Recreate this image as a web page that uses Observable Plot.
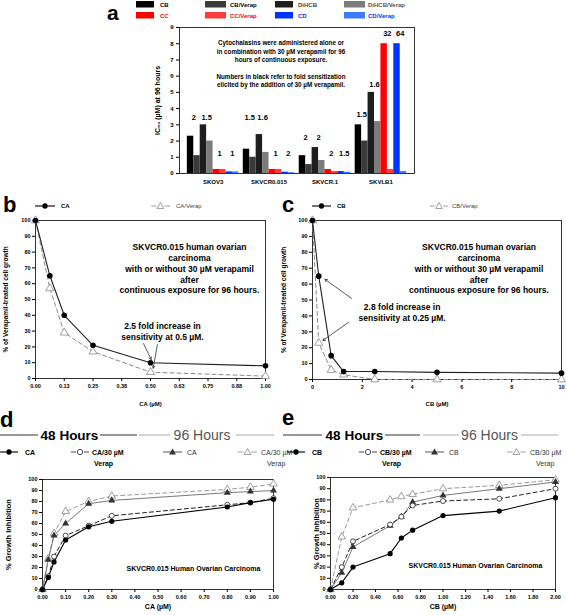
<!DOCTYPE html>
<html><head><meta charset="utf-8">
<script src="https://cdn.jsdelivr.net/npm/d3@7"></script>
<script src="https://cdn.jsdelivr.net/npm/@observablehq/plot@0.6"></script>
<style>
body{margin:0;background:#fff;}
#root{position:relative;width:566px;height:615px;overflow:hidden;font-family:"Liberation Sans",Arial,sans-serif;}
.panel{position:absolute;}
#overlay{position:absolute;left:0;top:0;pointer-events:none;}
</style></head><body><div id="root"></div>
<script>
// ---------- Panel a data ----------
const cellLines = ["SKOV3", "SKVCR0.015", "SKVCR.1", "SKVLB1"];
const agents = ["CB", "CB/Verap", "DiHCB", "DiHCB/Verap", "CC", "CC/Verap", "CD", "CD/Verap"];
const agentColors = ["#000000", "#3a3a3a", "#1e1e1e", "#7c7c7c", "#ff0000", "#ff3c3c", "#0033ff", "#3d7cff"];
const agentTextColors = ["#000", "#000", "#444", "#555", "#ff0000", "#ff0000", "#0033ff", "#0033ff"];
const ic50SKOV3 = [2.3, 1.1, 3.0, 2.0, 0.25, 0.25, 0.1, 0.1];
const ic50SKVCR015 = [1.5, 1.0, 2.4, 1.3, 0.25, 0.25, 0.08, 0.05];
const ic50SKVCR1 = [1.1, 0.55, 1.6, 0.8, 0.25, 0.12, 0.12, 0.08];
const ic50SKVLB1 = [3.0, 2.0, 5.0, 3.2, 8.0, 0.25, 8.0, 0.12];
const foldSKOV3 = ["2", "1.5", "1", "1"];
const foldSKVCR015 = ["1.5", "1.6", "1", "2"];
const foldSKVCR1 = ["2", "2", "2", "1.5"];
const foldSKVLB1 = ["1.5", "1.6", "32", "64"];
const foldLevelSKOV3 = [3.45, 3.45, 1.2, 1.2];
const foldLevelSKVCR015 = [3.45, 3.45, 1.2, 1.2];
const foldLevelSKVCR1 = [2.2, 2.2, 1.2, 1.2];
const foldLevelSKVLB1 = [3.65, 5.5, 8.6, 8.6];
const aYTicks = [0, 1, 2, 3, 4, 5, 6, 7, 8, 9];

// ---------- Panel b data (CA, 96 h) ----------
const caDose = [0, 0.0625, 0.125, 0.25, 0.5, 1.0];
const caGrowth = [100, 65, 40, 21, 10, 8];
const caVerapGrowth = [100, 57, 29, 17, 4, 1.5];
const bXTicks = [0, 0.125, 0.25, 0.375, 0.5, 0.625, 0.75, 0.875, 1.0];

// ---------- Panel c data (CB, 96 h) ----------
const cbDose = [0, 0.25, 0.75, 1.25, 2.5, 5, 10];
const cbGrowth = [100, 65, 15, 5, 5, 4.5, 4];
const cbVerapGrowth = [100, 23, 6, 3, 0, 0, 0];
const cXTicks = [0, 2, 4, 6, 8, 10];
const growthTicks = [0, 10, 20, 30, 40, 50, 60, 70, 80, 90, 100];

// ---------- Panel d data (CA growth inhibition) ----------
const dDose = [0, 0.025, 0.05, 0.1, 0.2, 0.3, 0.8, 0.9, 1.0];
const dCA48 = [0, 11, 25, 45, 57, 62, 75, 79, 82];
const dCAVerap48 = [0, 12, 30, 49, 58, 67, 77, 79, 83];
const dCA96 = [0, 27, 49, 60, 78, 81, 88, 89, 90];
const dCAVerap96 = [0, 28, 51, 71, 80, 85, 91, 93, 96];
const dXTicks = [0, 0.1, 0.2, 0.3, 0.4, 0.5, 0.6, 0.7, 0.8, 0.9, 1.0];

// ---------- Panel e data (CB growth inhibition) ----------
const eDose = [0, 0.1, 0.2, 0.53, 0.63, 0.73, 1.0, 1.5, 2.0];
const eCB48 = [0, 6, 20, 32, 46, 53, 66, 70, 82];
const eCBVerap48 = [0, 20, 43, 58, 65, 75, 79, 81, 90];
const eCB96 = [0, 15, 38, 57, 65, 78, 84, 90, 96];
const eCBVerap96 = [0, 47, 73, 80, 83, 85, 90, 93, 98];
const eXTicks = [0, 0.2, 0.4, 0.6, 0.8, 1.0, 1.2, 1.4, 1.6, 1.8, 2.0];

// ---------- helpers ----------
const FONT = "Liberation Sans, Arial, sans-serif";
const root = document.getElementById("root");
function mount(node, left, top) {
  const div = document.createElement("div");
  div.className = "panel";
  div.style.left = left + "px";
  div.style.top = top + "px";
  div.appendChild(node);
  root.appendChild(div);
}
const baseStyle = {fontFamily: FONT, fontWeight: "bold", fontSize: "6px", background: "transparent", overflow: "visible", color: "#000"};
const rows = (xs, ys) => xs.map((x, i) => ({x, y: ys[i]}));
const yTitle = (t, dx, size) => Plot.text([t], {frameAnchor: "left", textAnchor: "middle", rotate: -90, dx, fontSize: size, fontWeight: "bold"});

// ---------- Panel a ----------
const ic50ByLine = [ic50SKOV3, ic50SKVCR015, ic50SKVCR1, ic50SKVLB1];
const foldByLine = [foldSKOV3, foldSKVCR015, foldSKVCR1, foldSKVLB1];
const foldLevelByLine = [foldLevelSKOV3, foldLevelSKVCR015, foldLevelSKVCR1, foldLevelSKVLB1];
const BW = 0.115;
const barRows = cellLines.flatMap((line, gi) => agents.map((agent, si) => ({gi, si, agent, value: ic50ByLine[gi][si]})));
const foldRows = cellLines.flatMap((line, gi) => [0, 1, 2, 3].map(p => ({gi, p, label: foldByLine[gi][p], level: foldLevelByLine[gi][p]})));
const aNote = "Cytochalasins were administered alone or\nin combination with 30 µM verapamil for 96\nhours of continuous exposure.\n\nNumbers in black refer to fold sensitization\nelicited by the addition of 30 µM verapamil.";

mount(Plot.plot({
  width: 290, height: 172, marginLeft: 49, marginTop: 7, marginRight: 6, marginBottom: 19,
  style: baseStyle,
  x: {domain: [-0.6, 3.6]},
  y: {domain: [0, 9]},
  color: {domain: agents, range: agentColors},
  marks: [
    Plot.rect(barRows, {x1: d => d.gi + (d.si - 4) * BW, x2: d => d.gi + (d.si - 3) * BW, y1: 0, y2: "value", fill: "agent"}),
    Plot.frame({stroke: "#000", strokeWidth: 0.8}),
    Plot.axisY({ticks: aYTicks, tickSize: 3, tickPadding: 3, fontSize: 6, label: null}),
    Plot.axisX({ticks: [0, 1, 2, 3], tickFormat: i => cellLines[i], tickSize: 0, tickPadding: 6, fontSize: 6, label: null}),
    Plot.text(foldRows, {x: d => d.gi + (2 * d.p - 3) * BW, y: "level", text: "label", fontSize: 7.5, fontWeight: "bold", fill: "#000"}),
    Plot.text([aNote], {frameAnchor: "top", dx: -16, dy: 12, lineAnchor: "top", fontSize: 6.3, lineHeight: 1.33, fontWeight: "bold", fill: "#000"}),
    yTitle("IC₅₀ (µM) at 96 hours", -22, 7)
  ]
}), 130, 20);

// ---------- Panel b ----------
const bMainNote = "SKVCR0.015 human ovarian\ncarcinoma\nwith or without 30 µM verapamil\nafter\ncontinuous exposure for 96 hours.";
mount(Plot.plot({
  width: 270, height: 195, marginLeft: 35, marginTop: 5, marginRight: 5, marginBottom: 32,
  style: baseStyle,
  x: {domain: [0, 1]},
  y: {domain: [0, 100]},
  marks: [
    Plot.frame({stroke: "#000", strokeWidth: 0.8}),
    Plot.axisX({ticks: bXTicks, tickFormat: d => d.toFixed(2), tickSize: 3, tickPadding: 3, fontSize: 5.5, label: null}),
    Plot.axisY({ticks: growthTicks, tickSize: 3, tickPadding: 2, fontSize: 5.5, label: null}),
    Plot.line(rows(caDose, caVerapGrowth), {x: "x", y: "y", stroke: "#8a8a8a", strokeWidth: 1, strokeDasharray: "4,3"}),
    Plot.dot(rows(caDose, caVerapGrowth), {x: "x", y: "y", symbol: "triangle", r: 3, stroke: "#888", fill: "#fff", strokeWidth: 0.8}),
    Plot.line(rows(caDose, caGrowth), {x: "x", y: "y", stroke: "#222", strokeWidth: 1.1}),
    Plot.dot(rows(caDose, caGrowth), {x: "x", y: "y", r: 2.8, fill: "#000"}),
    Plot.text([bMainNote], {frameAnchor: "top", dx: 39, dy: 22, lineAnchor: "top", fontSize: 8.5, lineHeight: 1.27, fontWeight: "bold"}),
    Plot.text(["2.5 fold increase in\nsensitivity at 0.5 µM."], {x: 0.552, y: 30, fontSize: 8.5, lineHeight: 1.3, fontWeight: "bold"}),
    Plot.arrow([{x1: 0.47, y1: 22, x2: 0.503, y2: 12}, {x1: 0.53, y1: 21.5, x2: 0.512, y2: 6.5}], {x1: "x1", y1: "y1", x2: "x2", y2: "y2", stroke: "#333", strokeWidth: 0.8, headLength: 5}),
    Plot.text(["CA (µM)"], {frameAnchor: "bottom", dy: 27, fontSize: 6, fontWeight: "bold"}),
    yTitle("% of Verapamil-treated cell growth", -30, 6.5)
  ]
}), 0, 215);

// ---------- Panel c ----------
mount(Plot.plot({
  width: 286, height: 195, marginLeft: 34, marginTop: 5, marginRight: 3, marginBottom: 31,
  style: baseStyle,
  x: {domain: [0, 10]},
  y: {domain: [0, 100]},
  marks: [
    Plot.frame({stroke: "#000", strokeWidth: 0.8}),
    Plot.axisX({ticks: cXTicks, tickFormat: d => String(d), tickSize: 3, tickPadding: 3, fontSize: 5.5, label: null}),
    Plot.axisY({ticks: growthTicks, tickSize: 3, tickPadding: 2, fontSize: 5.5, label: null}),
    Plot.line(rows(cbDose, cbVerapGrowth), {x: "x", y: "y", stroke: "#8a8a8a", strokeWidth: 1, strokeDasharray: "4,3"}),
    Plot.dot(rows(cbDose, cbVerapGrowth), {x: "x", y: "y", symbol: "triangle", r: 3, stroke: "#888", fill: "#fff", strokeWidth: 0.8}),
    Plot.line(rows(cbDose, cbGrowth), {x: "x", y: "y", stroke: "#222", strokeWidth: 1.1}),
    Plot.dot(rows(cbDose, cbGrowth), {x: "x", y: "y", r: 2.8, fill: "#000"}),
    Plot.text([bMainNote], {frameAnchor: "top", dx: 42, dy: 22, lineAnchor: "top", fontSize: 8.5, lineHeight: 1.27, fontWeight: "bold"}),
    Plot.text(["2.8 fold increase in\nsensitivity at 0.25 µM."], {x: 3.6, y: 42.5, fontSize: 8.5, lineHeight: 1.3, fontWeight: "bold"}),
    Plot.arrow([{x1: 1.57, y1: 51, x2: 0.5, y2: 63}, {x1: 1.45, y1: 36, x2: 0.42, y2: 24.5}], {x1: "x1", y1: "y1", x2: "x2", y2: "y2", stroke: "#333", strokeWidth: 0.8, headLength: 5}),
    Plot.text(["CB (µM)"], {frameAnchor: "bottom", dy: 26, fontSize: 6, fontWeight: "bold"}),
    yTitle("% of Verapamil-treated cell growth", -29, 6.5)
  ]
}), 278, 215);

// ---------- Panels d & e ----------
function inhibitionPanel({dose, s48, v48, s96, v96, ticks, agent, width, mL, mR, mT, noteDx, noteDy, yTitleDx}) {
  return Plot.plot({
    width, height: 145, marginLeft: mL, marginTop: mT, marginRight: mR, marginBottom: 26,
    style: baseStyle,
    x: {domain: [0, ticks[ticks.length - 1]]},
    y: {domain: [0, 100]},
    marks: [
      Plot.frame({stroke: "#000", strokeWidth: 0.8}),
      Plot.axisX({ticks, tickFormat: d => d.toFixed(2), tickSize: 3, tickPadding: 3, fontSize: 5.5, label: null}),
      Plot.axisY({ticks: growthTicks, tickSize: 3, tickPadding: 2, fontSize: 5.5, label: null}),
      Plot.line(rows(dose, v96), {x: "x", y: "y", stroke: "#9a9a9a", strokeWidth: 1, strokeDasharray: "4,3"}),
      Plot.line(rows(dose, s96), {x: "x", y: "y", stroke: "#6a6a6a", strokeWidth: 0.9}),
      Plot.line(rows(dose, v48), {x: "x", y: "y", stroke: "#222", strokeWidth: 1, strokeDasharray: "4,3"}),
      Plot.line(rows(dose, s48), {x: "x", y: "y", stroke: "#000", strokeWidth: 1.1}),
      Plot.dot(rows(dose, v96), {x: "x", y: "y", symbol: "triangle", r: 2.8, stroke: "#888", fill: "#fff", strokeWidth: 0.8}),
      Plot.dot(rows(dose, s96), {x: "x", y: "y", symbol: "triangle", r: 2.6, fill: "#333"}),
      Plot.dot(rows(dose, v48), {x: "x", y: "y", r: 2.5, stroke: "#222", fill: "#fff", strokeWidth: 0.8}),
      Plot.dot(rows(dose, s48), {x: "x", y: "y", r: 2.6, fill: "#000"}),
      Plot.text(["SKVCR0.015 Human Ovarian Carcinoma"], {frameAnchor: "bottom", dx: noteDx, dy: noteDy, fontSize: 7, fontWeight: "bold"}),
      Plot.text([agent + " (µM)"], {frameAnchor: "bottom", dy: 19, fontSize: 7, fontWeight: "bold"}),
      yTitle("% Growth Inhibition", yTitleDx, 7.5)
    ]
  });
}
mount(inhibitionPanel({dose: dDose, s48: dCA48, v48: dCAVerap48, s96: dCA96, v96: dCAVerap96, ticks: dXTicks, agent: "CA",
  width: 280, mL: 42, mR: 7, mT: 9, noteDx: 35.5, noteDy: -19, yTitleDx: -34}), 0, 470);
mount(inhibitionPanel({dose: eDose, s48: eCB48, v48: eCBVerap48, s96: eCB96, v96: eCBVerap96, ticks: eXTicks, agent: "CB",
  width: 284, mL: 50, mR: 9, mT: 7, noteDx: 32.5, noteDy: -22, yTitleDx: -14}), 280, 470);

// ---------- Overlay: panel letters, legends, headers ----------
const ov = d3.select(root).append("svg").attr("id", "overlay").attr("width", 566).attr("height", 615)
  .style("font-family", FONT);
const letters = [["a", 107, 19.5, 21], ["b", 3, 212, 22], ["c", 282, 212, 22], ["d", 0, 427, 22], ["e", 282, 425, 22]];
ov.selectAll("text.letter").data(letters).join("text").attr("class", "letter")
  .attr("x", d => d[1]).attr("y", d => d[2])
  .attr("font-size", d => d[3]).attr("font-weight", "bold").text(d => d[0]);

// legend a
const aSwX = [136, 205, 275, 344];
const aTxX = [160, 230, 298, 368];
const aLegendOrder = [[0, 1, 2, 3], [4, 5, 6, 7]];
aLegendOrder.forEach((r, ri) => r.forEach((si, ci) => {
  const y = ri === 0 ? 1 : 12;
  ov.append("rect").attr("x", aSwX[ci]).attr("y", y).attr("width", ci % 2 ? 21 : 18).attr("height", 6.5).attr("fill", agentColors[si]);
  ov.append("text").attr("x", aTxX[ci]).attr("y", y + 5.5).attr("font-size", 6).attr("font-weight", "bold")
    .attr("fill", agentTextColors[si]).text(agents[si]);
}));

function glyph(x1, x2, y, {dashed, stroke, marker, fill, mStroke}) {
  const cx = (x1 + x2) / 2;
  if (dashed) {
    ov.append("line").attr("x1", x1).attr("x2", cx - 4).attr("y1", y).attr("y2", y).attr("stroke", stroke).attr("stroke-width", 0.9);
    ov.append("line").attr("x1", cx + 4).attr("x2", x2).attr("y1", y).attr("y2", y).attr("stroke", stroke).attr("stroke-width", 0.9);
  } else {
    ov.append("line").attr("x1", x1).attr("x2", x2).attr("y1", y).attr("y2", y).attr("stroke", stroke).attr("stroke-width", 1.1);
  }
  const sym = marker === "circle" ? d3.symbolCircle : d3.symbolTriangle;
  ov.append("path").attr("d", d3.symbol(sym, marker === "circle" ? 22 : 20)())
    .attr("transform", `translate(${cx},${y + (marker === "circle" ? 0 : 0.5)})`)
    .attr("fill", fill).attr("stroke", mStroke || "none").attr("stroke-width", 0.8);
}
function label(x, y, t, {bold = true, color = "#000", size = 6} = {}) {
  ov.append("text").attr("x", x).attr("y", y).attr("font-size", size).attr("font-weight", bold ? "bold" : "normal").attr("fill", color).text(t);
}
// legend b, c
glyph(35, 55, 206, {stroke: "#000", marker: "circle", fill: "#000"}); label(61, 208, "CA");
glyph(151, 170, 206, {dashed: true, stroke: "#999", marker: "triangle", fill: "#fff", mStroke: "#888"}); label(176, 208, "CA/Verap", {bold: false, color: "#444"});
glyph(312, 331, 206, {stroke: "#000", marker: "circle", fill: "#000"}); label(337, 208, "CB");
glyph(430, 448, 206, {dashed: true, stroke: "#999", marker: "triangle", fill: "#fff", mStroke: "#888"}); label(452, 208, "CB/Verap", {bold: false, color: "#444"});

// legend d, e
const legY = 452, legY2 = 466;
function inhibLegend(agent, pos) {
  glyph(pos[0], pos[0] + 18, legY, {stroke: "#000", marker: "circle", fill: "#000"});
  label(pos[0] + 25, legY + 2.5, agent, {size: 7});
  glyph(pos[1], pos[1] + 18, legY, {dashed: true, stroke: "#333", marker: "circle", fill: "#fff", mStroke: "#222"});
  label(pos[1] + 21, legY + 2.5, agent + "/30 µM", {size: 7});
  label(pos[1] + 23, legY2, "Verap", {size: 7});
  glyph(pos[2], pos[2] + 19, legY, {stroke: "#666", marker: "triangle", fill: "#333"});
  label(pos[2] + 24, legY + 2.5, agent, {size: 7, bold: false, color: "#333"});
  glyph(pos[3], pos[3] + 19, legY, {dashed: true, stroke: "#999", marker: "triangle", fill: "#fff", mStroke: "#888"});
  label(pos[3] + 23, legY + 2.5, agent + "/30 µM", {size: 7, bold: false, color: "#333"});
  label(pos[3] + 29, legY2, "Verap", {size: 7, bold: false, color: "#333"});
}
inhibLegend("CA", [0, 71, 163, 238]);
inhibLegend("CB", [287, 359, 425, 507]);

// headers
function header(x0, t48, t96) {
  const y = 435;
  [[x0[0], x0[1]], [x0[2], x0[3]]].forEach(([a, b]) => ov.append("line").attr("x1", a).attr("x2", b).attr("y1", y).attr("y2", y).attr("stroke", "#333").attr("stroke-width", 1));
  [[x0[4], x0[5]], [x0[6], x0[7]]].forEach(([a, b]) => ov.append("line").attr("x1", a).attr("x2", b).attr("y1", y).attr("y2", y).attr("stroke", "#aaa").attr("stroke-width", 1));
  ov.append("text").attr("x", t48).attr("y", y + 5).attr("text-anchor", "middle").attr("font-size", 13.5).attr("font-weight", "bold").text("48 Hours");
  ov.append("text").attr("x", t96).attr("y", y + 5).attr("text-anchor", "middle").attr("font-size", 14).attr("fill", "#555").text("96 Hours");
}
header([0, 38, 100, 137, 139, 170, 236, 274], 69.5, 202);
header([283, 322, 385, 420, 423, 459, 521, 558], 354.5, 489.5);
</script></body></html>
